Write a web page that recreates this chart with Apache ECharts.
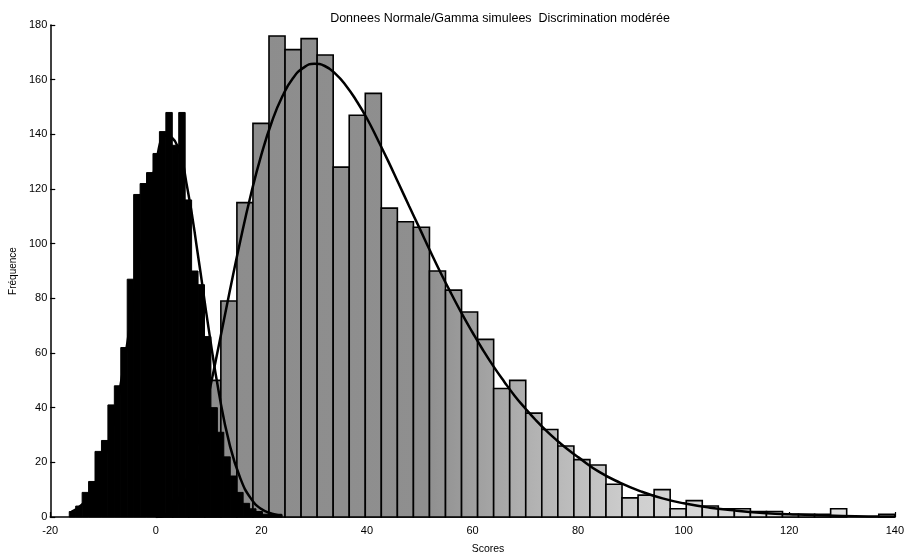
<!DOCTYPE html>
<html>
<head>
<meta charset="utf-8">
<script src="https://cdn.jsdelivr.net/npm/echarts@6/dist/echarts.min.js"></script>
<style>
  html, body { margin: 0; padding: 0; background: #fff; }
  #chart { width: 907px; height: 554px; }
</style>
</head>
<body>
<div id="chart"></div>
<script>
// Gamma sample histogram: first bin edge, bin width, counts per bin
const gammaBinStart = 0.16;
const gammaBinWidth = 3.04;
const gammaCounts = [1, 6, 24, 50, 79, 115, 144, 176, 171, 175, 169, 128, 147, 155, 113, 108, 106,
  90, 83, 75, 65, 47, 50, 38, 32, 26, 21, 19, 12, 7, 8, 10, 3, 6, 4, 3, 3, 2, 2, 1, 1, 1, 3, 0, 0, 1];

// Normal sample histogram
const normalBinStart = -16.4;
const normalBinWidth = 1.22;
const normalCounts = [2, 4, 9, 13, 24, 28, 41, 48, 62, 87, 118, 122, 126, 133, 141, 148, 136, 148,
  116, 90, 85, 66, 40, 31, 22, 15, 9, 5, 3, 2, 1, 1, 1];

// Fitted density curves (scaled to counts)
const normalFitX = [-16, -14, -12, -10, -8, -6, -4, -2, 0, 2, 4, 6, 8, 10, 12, 14, 16, 18, 20, 22, 24];
const normalFitY = [1.9, 4.5, 9.9, 19.7, 34.9, 56.3, 82.2, 108.5, 129.4, 139.6, 136.1, 120, 95.6, 69,
  44.9, 26.4, 14.2, 6.8, 2.9, 1.2, 0.4];

const gammaFitX = [0, 2, 4, 6, 8, 10, 12, 14, 16, 18, 20, 22, 24, 26, 28, 30, 32, 34, 36, 38, 40, 42,
  44, 46, 48, 50, 52, 54, 56, 58, 60, 62, 64, 66, 68, 70, 72, 74, 76, 78, 80, 84, 88, 92, 96, 100,
  105, 110, 115, 120, 130, 140];
const gammaFitY = [0, 0.8, 5.2, 14.4, 27.9, 44.7, 63.4, 82.6, 101, 117.9, 132.6, 144.7, 154, 160.6,
  164.4, 165.8, 165, 162.2, 157.9, 152.3, 145.8, 138.2, 130.3, 122, 113.7, 105.5, 97.2, 89.2, 81.6,
  74.3, 67.5, 61, 55, 49.5, 44.3, 39.7, 35.4, 31.5, 28, 24.8, 21.9, 16.5, 12.5, 9.3, 6.8, 5, 3.4,
  2.3, 1.5, 1, 0.4, 0.15];

// Axis ticks
const xTicks = [-20, 0, 20, 40, 60, 80, 100, 120, 140];
const yTicks = [0, 20, 40, 60, 80, 100, 120, 140, 160, 180];

const titleText = 'Donnees Normale/Gamma simulees  Discrimination modérée';
const xName = 'Scores';
const yName = 'Fréquence';

function binsToRows(start, width, counts) {
  return counts.map((c, i) => [start + i * width, start + (i + 1) * width, c]);
}

function histRenderer(fill, stroke, lw) {
  return function (params, api) {
    const lo = api.value(0), hi = api.value(1), v = api.value(2);
    if (v <= 0) return null;
    const pTop = api.coord([lo, v]);
    const pBot = api.coord([hi, 0]);
    return {
      type: 'rect',
      shape: { x: pTop[0], y: pTop[1], width: pBot[0] - pTop[0], height: pBot[1] - pTop[1] },
      style: { fill: fill, stroke: stroke, lineWidth: lw }
    };
  };
}

const grayFill = {
  type: 'linear', x: 0, y: 0, x2: 907, y2: 0, global: true,
  colorStops: [
    { offset: 0.0, color: '#8a8a8a' },
    { offset: 0.47, color: '#8f8f8f' },
    { offset: 0.58, color: '#b0b0b0' },
    { offset: 0.70, color: '#cfcfcf' },
    { offset: 0.85, color: '#dedede' },
    { offset: 1.0, color: '#e4e4e4' }
  ]
};

const chart = echarts.init(document.getElementById('chart'), null, { renderer: 'canvas' });

const fontFam = '"Liberation Sans", Arial, sans-serif';

chart.setOption({
  animation: false,
  backgroundColor: '#ffffff',
  title: [
    {
      text: titleText, left: 495, top: 7, textAlign: 'center',
      textStyle: { fontSize: 12.5, fontWeight: 'normal', color: '#000', fontFamily: fontFam }
    },
    {
      text: xName, left: 483, top: 539, textAlign: 'center',
      textStyle: { fontSize: 10.5, fontWeight: 'normal', color: '#000', fontFamily: fontFam }
    }
  ],
  grid: { left: 50, right: 10, top: 25, bottom: 37, containLabel: false },
  xAxis: {
    type: 'value',
    min: xTicks[0], max: xTicks[xTicks.length - 1], interval: 20,
    axisLine: { show: true, onZero: false, lineStyle: { color: '#000', width: 1.5 } },
    axisTick: { show: true, inside: true, length: 5, lineStyle: { color: '#000', width: 1.2 } },
    axisLabel: { color: '#000', fontSize: 11, margin: 8, fontFamily: fontFam },
    splitLine: { show: false }
  },
  yAxis: {
    type: 'value',
    min: yTicks[0], max: yTicks[yTicks.length - 1], interval: 20,
    name: yName, nameLocation: 'middle', nameRotate: 90, nameGap: 26,
    nameTextStyle: { color: '#000', fontSize: 10, fontFamily: fontFam },
    axisLine: { show: true, onZero: false, lineStyle: { color: '#000', width: 1.5 } },
    axisTick: { show: true, inside: true, length: 5, lineStyle: { color: '#000', width: 1.2 } },
    axisLabel: { color: '#000', fontSize: 11, margin: 3, fontFamily: fontFam },
    splitLine: { show: false }
  },
  series: [
    {
      name: 'Gamma', type: 'custom', z: 2,
      renderItem: histRenderer(grayFill, '#000', 1.6),
      encode: { x: [0, 1], y: 2 },
      data: binsToRows(gammaBinStart, gammaBinWidth, gammaCounts)
    },
    {
      name: 'Normale', type: 'custom', z: 3,
      renderItem: histRenderer('#000', '#000', 1),
      encode: { x: [0, 1], y: 2 },
      data: binsToRows(normalBinStart, normalBinWidth, normalCounts)
    },
    {
      name: 'Ajustement normal', type: 'line', z: 4,
      data: normalFitX.map((x, i) => [x, normalFitY[i]]),
      smooth: 0.5, showSymbol: false,
      lineStyle: { color: '#000', width: 2.5 }
    },
    {
      name: 'Ajustement gamma', type: 'line', z: 4,
      data: gammaFitX.map((x, i) => [x, gammaFitY[i]]),
      smooth: 0.5, showSymbol: false,
      lineStyle: { color: '#000', width: 2.5 }
    }
  ]
});
</script>
</body>
</html>
